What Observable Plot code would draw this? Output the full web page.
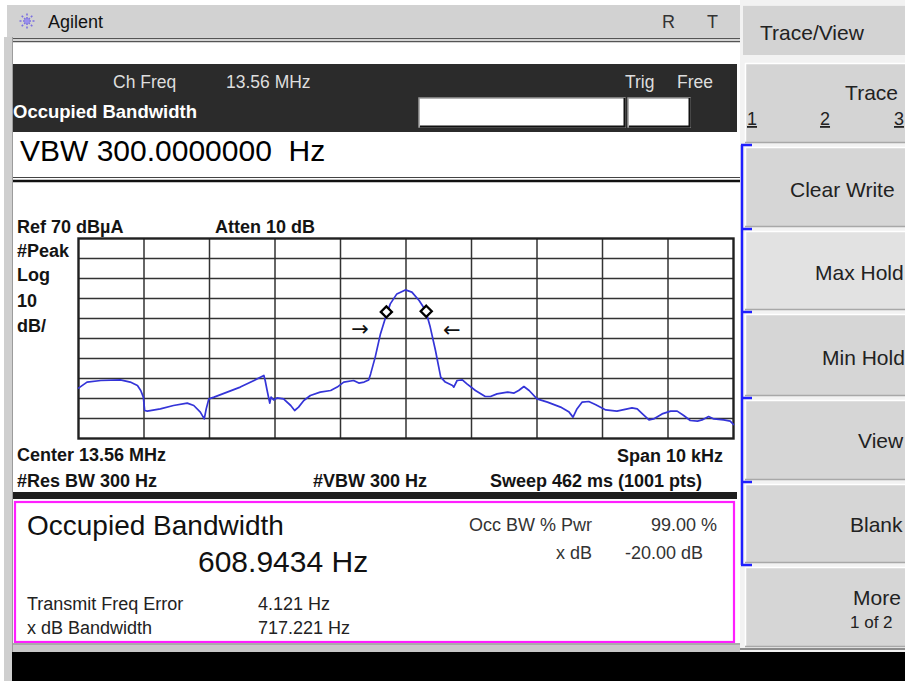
<!DOCTYPE html>
<html>
<head>
<meta charset="utf-8">
<script src="https://cdn.jsdelivr.net/npm/d3@7"></script>
<script src="https://cdn.jsdelivr.net/npm/@observablehq/plot@0.6"></script>
<style>
  html, body { margin: 0; padding: 0; background: #ffffff; overflow: hidden; }
  #page { position: relative; width: 905px; height: 681px; overflow: hidden; }
  #page > svg { position: absolute; left: 0; top: 0; }
  #chart { position: absolute; left: 0; top: 183px; }
  text { white-space: pre; }
</style>
</head>
<body>
<div id="page"><div id="chart"></div></div>
<script>
// ---------- DATA ----------
// trace: frequency offset from centre (kHz) and level (dBµA)
const traceFreqKHz = [
  -5.00, -4.87, -4.66, -4.36, -4.21, -4.10, -4.05, -4.01, -3.99, -3.95,
  -3.75, -3.55, -3.34, -3.24, -3.14, -3.08, -3.05, -3.01, -2.93, -2.73,
  -2.53, -2.32, -2.17, -2.15, -2.12, -2.08, -2.06, -2.02, -1.97, -1.87,
  -1.76, -1.70, -1.64, -1.56, -1.46, -1.31, -1.15, -1.05, -0.95, -0.80,
  -0.72, -0.64, -0.57, -0.54, -0.47, -0.39, -0.31, -0.24, -0.14, -0.01,
   0.09,  0.20,  0.30,  0.37,  0.45,  0.53,  0.60,  0.71,  0.73,  0.78,
   0.86,  0.93,  1.06,  1.21,  1.29,  1.39,  1.55,  1.65,  1.72,  1.80,
   1.88,  2.00,  2.16,  2.36,  2.49,  2.55,  2.61,  2.69,  2.79,  2.89,
   3.05,  3.22,  3.38,  3.45,  3.53,  3.61,  3.71,  3.78,  3.91,  4.04,
   4.14,  4.24,  4.34,  4.45,  4.52,  4.62,  4.70,  4.85,  4.95,  5.00
];
const traceLevelDb = [
   -4.8,  -1.8,  -1.0,  -0.7,  -1.8,  -3.5,  -6.0,  -9.3, -16.0, -16.3,
  -15.2, -13.5, -12.3, -13.5, -16.8, -20.2, -15.2, -10.2,  -9.3,  -6.8,
   -4.3,  -1.0,   1.5,  -1.0,  -6.0, -12.3,  -9.3, -10.7,  -9.7, -10.2,
  -13.5, -16.0, -14.3, -11.0,  -8.5,  -6.8,  -6.0,  -4.3,  -1.8,  -1.0,
   -2.3,  -1.8,  -0.7,   2.3,  10.7,  22.3,  30.7,  37.3,  42.3,  44.3,
   43.2,  39.0,  34.0,  25.7,  14.0,   0.7,  -1.8,  -3.5,  -4.3,  -1.0,
   -0.7,  -2.7,  -6.0,  -9.0,  -9.0,  -7.7,  -6.8,  -7.3,  -6.0,  -4.0,
   -6.0, -10.2, -11.8, -14.3, -16.8, -19.3, -15.2, -11.8, -11.5, -13.0,
  -15.7, -16.3, -15.2, -14.7, -15.2, -17.7, -20.7, -20.2, -17.7, -16.3,
  -16.3, -18.5, -21.0, -21.3, -20.7, -19.0, -20.2, -20.7, -21.3, -23.0
];
// occupied-bandwidth markers (diamonds)
const markerFreqKHz = [-0.300, 0.309];
const markerLevelDb = [33.3, 33.6];
// x dB bandwidth arrows
const arrowFreqKHz = [-0.70, 0.70];
const arrowLevelDb = [24.6, 24.3];
const arrowGlyph = ["\u2192", "\u2190"];
// screen settings
const refLevelDb = 70;
const dbPerDiv = 10;
const spanKHz = 10;
const divisions = 10;

// display texts
const titleText = "Agilent";
const statusLetters = ["R", "T"];
const chFreqLabel = "Ch Freq";
const chFreqValue = "13.56 MHz";
const trigLabel = "Trig";
const trigValue = "Free";
const modeLabel = "Occupied Bandwidth";
const activeEntry = "VBW 300.0000000\u00A0 Hz";
const refText = "Ref 70 dB\u00B5A";
const attenText = "Atten 10 dB";
const scaleTexts = ["#Peak", "Log", "10", "dB/"];
const centerText = "Center 13.56 MHz";
const spanText = "Span 10 kHz";
const rbwText = "#Res BW 300 Hz";
const vbwText = "#VBW 300 Hz";
const sweepText = "Sweep 462 ms (1001 pts)";
const resultTitle = "Occupied Bandwidth";
const resultValue = "608.9434 Hz";
const resultLabels = ["Transmit Freq Error", "x dB Bandwidth"];
const resultValues = ["4.121 Hz", "717.221 Hz"];
const settingLabels = ["Occ BW % Pwr", "x dB"];
const settingValues = ["99.00 %", "-20.00 dB"];
const menuTitle = "Trace/View";
const menuKeys = ["Trace", "Clear Write", "Max Hold", "Min Hold", "View", "Blank", "More"];
const traceNumbers = ["1", "2", "3"];
const moreSub = "1 of 2";

// ---------- CHROME (instrument screen) ----------
const FONT = "'Liberation Sans', Arial, Helvetica, sans-serif";
const svg = d3.create("svg").attr("width", 905).attr("height", 681)
  .attr("font-family", FONT);
const R = (x, y, w, h, fill, extra = {}) => {
  const r = svg.append("rect").attr("x", x).attr("y", y).attr("width", w).attr("height", h).attr("fill", fill);
  for (const k in extra) r.attr(k, extra[k]);
  return r;
};
const L = (x1, y1, x2, y2, stroke, sw) =>
  svg.append("line").attr("x1", x1).attr("y1", y1).attr("x2", x2).attr("y2", y2)
     .attr("stroke", stroke).attr("stroke-width", sw);
const T = (x, y, s, size, opts = {}) =>
  svg.append("text").attr("x", x).attr("y", y).text(s)
     .attr("font-size", size)
     .attr("font-weight", opts.weight || "normal")
     .attr("fill", opts.fill || "#111")
     .attr("text-anchor", opts.anchor || "start")
     .attr("text-decoration", opts.deco || null);

// background
R(0, 0, 905, 681, "#ffffff");
// left strip
R(4, 37, 9, 644, "#cfcfcf");
L(12.5, 37, 12.5, 652, "#9c9c9c", 1);
// top title bar
R(7, 5, 733, 32, "#d2d2d2");
// Agilent logo star
{
  const cx = 27, cy = 21;
  for (let i = 0; i < 8; i++) {
    const a = i * Math.PI / 4;
    L(cx + 2 * Math.cos(a), cy + 2 * Math.sin(a), cx + 9 * Math.cos(a), cy + 9 * Math.sin(a), "#7b6fe0", 1.6)
      .attr("stroke-dasharray", "2,1.5");
  }
  svg.append("circle").attr("cx", cx).attr("cy", cy).attr("r", 2.2).attr("fill", "#9a8ff0");
}
T(48, 28, titleText, 18);
T(662, 28, statusLetters[0], 18, {fill: "#333"});
T(707, 28, statusLetters[1], 18, {fill: "#333"});
// double line under title
L(13, 38.5, 740, 38.5, "#555", 1.5);
L(13, 41.5, 740, 41.5, "#555", 1.5);
// dark status band
R(13, 64, 724, 68, "#2b2b2b");
T(113, 88, chFreqLabel, 17.5, {fill: "#dedede"});
T(226, 88, chFreqValue, 17.5, {fill: "#dedede"});
T(625, 88, trigLabel, 17.5, {fill: "#dedede"});
T(677, 88, trigValue, 17.5, {fill: "#dedede"});
T(13, 118, modeLabel, 18.5, {fill: "#ffffff", weight: "bold"});
R(419, 98, 206, 29, "#ffffff", {stroke: "#9a9a9a", "stroke-width": 1.5});
R(628, 98, 62, 29, "#ffffff", {stroke: "#9a9a9a", "stroke-width": 1.5});
L(420, 126.5, 625, 126.5, "#111", 2);
L(624.5, 98, 624.5, 127, "#111", 2);
L(629, 126.5, 690, 126.5, "#111", 2);
L(689.5, 98, 689.5, 127, "#111", 2);
// active entry
T(20, 161, activeEntry, 30, {fill: "#000"});
L(13, 177.5, 740, 177.5, "#444", 1.2);
L(13, 181, 740, 181, "#111", 2.5);
// graph annotations
const B = {weight: "bold", fill: "#141414"};
T(17, 233, refText, 18, B);
T(215, 233, attenText, 18, B);
T(17, 257, scaleTexts[0], 18, B);
T(17, 281, scaleTexts[1], 18, B);
T(17, 307, scaleTexts[2], 18, B);
T(17, 332, scaleTexts[3], 18, B);
T(17, 461, centerText, 18, B);
T(723, 462, spanText, 18, {...B, anchor: "end"});
T(17, 487, rbwText, 18, B);
T(313, 487, vbwText, 18, B);
T(702, 487, sweepText, 18, {...B, anchor: "end"});
// dark band under graph
R(13, 492, 724, 7, "#1e1e1e");
// result box
R(15, 502, 719, 140, "#ffffff", {stroke: "#ff1fff", "stroke-width": 2.2});
T(27, 535, resultTitle, 28, {fill: "#111"});
T(198, 572, resultValue, 30, {fill: "#111"});
T(27, 610, resultLabels[0], 18, {fill: "#222"});
T(27, 634, resultLabels[1], 18, {fill: "#222"});
T(258, 610, resultValues[0], 18, {fill: "#222"});
T(258, 634, resultValues[1], 18, {fill: "#222"});
T(592, 531, settingLabels[0], 18, {fill: "#333", anchor: "end"});
T(592, 559, settingLabels[1], 18, {fill: "#333", anchor: "end"});
T(717, 531, settingValues[0], 18, {fill: "#333", anchor: "end"});
T(703, 559, settingValues[1], 18, {fill: "#333", anchor: "end"});
// grey strip and black band at bottom
R(13, 643, 727, 10, "#c9c9c9");
L(13, 644, 740, 644, "#8a8a8a", 1);
R(12, 652, 893, 29, "#000000");

// right soft-key panel
R(740, 0, 165, 652, "#f2f2f2");
R(743, 5, 162, 50, "#d3d3d3");
L(743, 5.5, 905, 5.5, "#eeeeee", 1);
T(760, 40, menuTitle, 21, {fill: "#222"});
const keys = [
  {y: 63, h: 80, fill: "#d4d4d4"},
  {y: 147, h: 80, fill: "#d6d6d6"},
  {y: 231, h: 79, fill: "#e2e2e2"},
  {y: 314, h: 82, fill: "#d6d6d6"},
  {y: 400, h: 80, fill: "#d6d6d6"},
  {y: 484, h: 79, fill: "#d6d6d6"},
  {y: 567, h: 80, fill: "#d6d6d6"}
];
keys.forEach(k => {
  R(745, k.y, 160, k.h, k.fill);
  L(745, k.y + 0.5, 905, k.y + 0.5, "#ffffff", 1.5);
  L(745.5, k.y, 745.5, k.y + k.h, "#ffffff", 1.5);
  L(745, k.y + k.h - 0.5, 905, k.y + k.h - 0.5, "#a8a8a8", 1.5);
});
T(898, 100, menuKeys[0], 21, {fill: "#222", anchor: "end"});
T(747, 125, traceNumbers[0], 18, {fill: "#222", deco: "underline"});
T(820, 125, traceNumbers[1], 18, {fill: "#222", deco: "underline"});
T(894, 125, traceNumbers[2], 18, {fill: "#222", deco: "underline"});
T(790, 197, menuKeys[1], 21, {fill: "#222"});
T(815, 280, menuKeys[2], 21, {fill: "#222"});
T(822, 365, menuKeys[3], 21, {fill: "#222"});
T(858, 448, menuKeys[4], 21, {fill: "#222"});
T(850, 532, menuKeys[5], 21, {fill: "#222"});
T(853, 605, menuKeys[6], 21, {fill: "#222"});
T(850, 628, moreSub, 17, {fill: "#222"});
// blue bracket
L(742, 145, 742, 565, "#2020ff", 2.5);
[145, 229, 312, 398, 482, 565].forEach(y => L(741, y, 752, y, "#2020ff", 2.5));
L(740, 649, 905, 649, "#6a6a6a", 1.5);

document.getElementById("page").prepend(svg.node());

// ---------- GRAPH (Observable Plot) ----------
const trace = traceFreqKHz.map((f, i) => ({f, db: traceLevelDb[i]}));
const markers = markerFreqKHz.map((f, i) => ({f, db: markerLevelDb[i]}));
const arrows = arrowFreqKHz.map((f, i) => ({f, db: arrowLevelDb[i], g: arrowGlyph[i]}));
const bottomDb = refLevelDb - dbPerDiv * divisions;
const gridDb = d3.range(1, divisions).map(i => refLevelDb - i * dbPerDiv);
const gridFreq = d3.range(1, divisions).map(i => -spanKHz / 2 + i * spanKHz / divisions);

const chart = Plot.plot({
  width: 740,
  height: 307,
  marginLeft: 78,
  marginRight: 7,
  marginTop: 55,
  marginBottom: 52,
  x: {domain: [-spanKHz / 2, spanKHz / 2], axis: null},
  y: {domain: [bottomDb, refLevelDb], axis: null},
  style: {background: "transparent", overflow: "visible", fontFamily: FONT},
  marks: [
    Plot.ruleX(gridFreq, {stroke: "#333", strokeWidth: 1.5}),
    Plot.ruleY(gridDb, {stroke: "#333", strokeWidth: 1.5}),
    Plot.frame({stroke: "#202020", strokeWidth: 2.4}),
    Plot.line(trace, {x: "f", y: "db", stroke: "#3434d8", strokeWidth: 1.7, curve: "linear"}),
    Plot.text(arrows, {x: "f", y: "db", text: "g", fontSize: 21, fontFamily: "'DejaVu Sans', sans-serif", fill: "#111"}),
    Plot.dot(markers, {x: "f", y: "db", symbol: "diamond2", r: 5, stroke: "#000", strokeWidth: 2.3, fill: "#fff"})
  ]
});
document.getElementById("chart").appendChild(chart);
</script>
</body>
</html>
